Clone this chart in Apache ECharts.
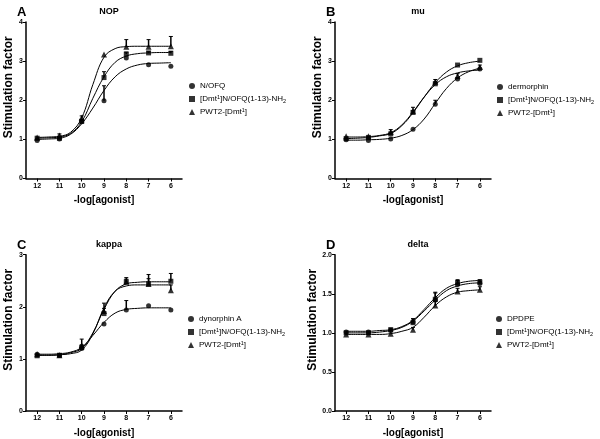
<!DOCTYPE html>
<html>
<head>
<meta charset="utf-8">
<script src="https://cdn.jsdelivr.net/npm/echarts@6/dist/echarts.min.js"></script>
<style>
html, body { margin: 0; padding: 0; background: #fff; }
#main { width: 600px; height: 439px; }
</style>
</head>
<body>
<div id="main"></div>
<script>
// -log[agonist] doses and tick labels
var doses = [12, 11, 10, 9, 8, 7, 6];
var fitX = [12, 11.5, 11, 10.5, 10, 9.5, 9, 8.5, 8, 7.5, 7, 6.5, 6];

// A NOP
var nopNofq = [0.97, 1.01, 1.45, 1.99, 3.08, 2.91, 2.87];
var nopNofqErr = [0, 0, 0, 0.38, 0, 0, 0];
var nopNofqFit = [1.0, 1.01, 1.03, 1.13, 1.4, 1.8, 2.25, 2.6, 2.8, 2.9, 2.94, 2.95, 2.96];
var nopDmt = [1.03, 1.03, 1.46, 2.58, 3.18, 3.21, 3.2];
var nopDmtErr = [0, 0, 0.05, 0.15, 0.05, 0.03, 0.05];
var nopDmtFit = [1.03, 1.04, 1.06, 1.15, 1.45, 2.05, 2.6, 2.97, 3.13, 3.19, 3.21, 3.22, 3.22];
var nopPwt = [1.05, 1.1, 1.55, 3.17, 3.37, 3.37, 3.38];
var nopPwtErr = [0, 0.04, 0.05, 0, 0.18, 0.18, 0.25];
var nopPwtFit = [1.05, 1.06, 1.08, 1.18, 1.55, 2.4, 3.1, 3.32, 3.37, 3.38, 3.38, 3.38, 3.38];

// B mu
var muDerm = [0.99, 0.97, 1.01, 1.26, 1.9, 2.54, 2.8];
var muDermErr = [0, 0, 0, 0, 0.1, 0.04, 0];
var muDermFit = [0.98, 0.98, 0.99, 1.0, 1.03, 1.1, 1.25, 1.52, 1.92, 2.3, 2.57, 2.73, 2.82];
var muDmt = [1.02, 1.05, 1.14, 1.69, 2.42, 2.9, 3.02];
var muDmtErr = [0, 0, 0, 0.04, 0.05, 0, 0];
var muDmtFit = [1.02, 1.03, 1.05, 1.09, 1.15, 1.35, 1.68, 2.08, 2.45, 2.72, 2.88, 2.96, 3.0];
var muPwt = [1.08, 1.08, 1.19, 1.72, 2.47, 2.62, 2.85];
var muPwtErr = [0, 0, 0.06, 0.1, 0.06, 0.06, 0.05];
var muPwtFit = [1.06, 1.06, 1.07, 1.1, 1.17, 1.37, 1.7, 2.08, 2.4, 2.6, 2.7, 2.75, 2.77];

// C kappa
var kapDyn = [1.09, 1.07, 1.2, 1.67, 1.94, 2.02, 1.94];
var kapDynErr = [0, 0, 0, 0, 0.18, 0, 0];
var kapDynFit = [1.09, 1.09, 1.1, 1.13, 1.22, 1.45, 1.7, 1.88, 1.95, 1.97, 1.98, 1.98, 1.98];
var kapDmt = [1.06, 1.07, 1.22, 1.87, 2.48, 2.44, 2.49];
var kapDmtErr = [0, 0, 0.05, 0.1, 0.05, 0.18, 0.15];
var kapDmtFit = [1.07, 1.07, 1.08, 1.12, 1.2, 1.5, 1.95, 2.3, 2.44, 2.47, 2.48, 2.48, 2.48];
var kapPwt = [1.09, 1.07, 1.26, 1.92, 2.48, 2.44, 2.32];
var kapPwtErr = [0, 0, 0.12, 0.15, 0.08, 0.1, 0.1];
var kapPwtFit = [1.07, 1.07, 1.08, 1.1, 1.17, 1.48, 1.98, 2.3, 2.4, 2.42, 2.42, 2.42, 2.42];

// D delta
var delDpd = [1.01, 1.01, 1.03, 1.14, 1.42, 1.62, 1.63];
var delDpdErr = [0, 0, 0, 0.04, 0.1, 0.05, 0.03];
var delDpdFit = [1.0, 1.0, 1.0, 1.01, 1.03, 1.07, 1.15, 1.28, 1.42, 1.54, 1.6, 1.63, 1.64];
var delDmt = [1.0, 1.0, 1.04, 1.13, 1.43, 1.64, 1.65];
var delDmtErr = [0, 0, 0.02, 0.05, 0.08, 0.04, 0.03];
var delDmtFit = [1.02, 1.02, 1.02, 1.03, 1.04, 1.08, 1.16, 1.3, 1.45, 1.57, 1.63, 1.66, 1.67];
var delPwt = [0.98, 0.98, 0.99, 1.04, 1.35, 1.53, 1.55];
var delPwtErr = [0, 0, 0, 0.03, 0.05, 0.04, 0.04];
var delPwtFit = [0.98, 0.98, 0.98, 0.98, 0.99, 1.02, 1.07, 1.2, 1.35, 1.46, 1.52, 1.54, 1.55];

var dmtName = '[Dmt1]N/OFQ(1-13)-NH2';
var pwtName = 'PWT2-[Dmt1]';

var font = 'Liberation Sans';
var chart = echarts.init(document.getElementById('main'));

var panels = [
    {letter: 'A', title: 'NOP', left: 26, top: 22, yMax: 4, yStep: 1, dec: 0,
        legendLeft: 184, legendTop: 76,
        sets: [['N/OFQ', nopNofq, nopNofqErr, nopNofqFit], [dmtName, nopDmt, nopDmtErr, nopDmtFit], [pwtName, nopPwt, nopPwtErr, nopPwtFit]]},
    {letter: 'B', title: 'mu', left: 335, top: 22, yMax: 4, yStep: 1, dec: 0,
        legendLeft: 492, legendTop: 77,
        sets: [['dermorphin', muDerm, muDermErr, muDermFit], [dmtName, muDmt, muDmtErr, muDmtFit], [pwtName, muPwt, muPwtErr, muPwtFit]]},
    {letter: 'C', title: 'kappa', left: 26, top: 254.7, yMax: 3, yStep: 1, dec: 0,
        legendLeft: 183, legendTop: 309,
        sets: [['dynorphin A', kapDyn, kapDynErr, kapDynFit], [dmtName, kapDmt, kapDmtErr, kapDmtFit], [pwtName, kapPwt, kapPwtErr, kapPwtFit]]},
    {letter: 'D', title: 'delta', left: 335, top: 254.7, yMax: 2, yStep: 0.5, dec: 1,
        legendLeft: 491, legendTop: 309,
        sets: [['DPDPE', delDpd, delDpdErr, delDpdFit], [dmtName, delDmt, delDmtErr, delDmtFit], [pwtName, delPwt, delPwtErr, delPwtFit]]}
];

var symbols = ['circle', 'rect', 'triangle'];
var symbolSizes = [5, 5, 6];

function errSeries(gi, ys, errs) {
    var d = [];
    for (var i = 0; i < doses.length; i++) {
        if (errs[i] > 0) d.push([doses[i], ys[i], ys[i] + errs[i]]);
    }
    return {
        type: 'custom', xAxisIndex: gi, yAxisIndex: gi, data: d, silent: true, z: 1,
        encode: {x: 0, y: [1, 2]},
        renderItem: function (params, api) {
            var p0 = api.coord([api.value(0), api.value(1)]);
            var p1 = api.coord([api.value(0), api.value(2)]);
            return {
                type: 'group', children: [
                    {type: 'line', shape: {x1: p0[0], y1: p0[1], x2: p1[0], y2: p1[1]}, style: {stroke: '#000', lineWidth: 1.5}},
                    {type: 'line', shape: {x1: p1[0] - 2, y1: p1[1], x2: p1[0] + 2, y2: p1[1]}, style: {stroke: '#000', lineWidth: 1}}
                ]
            };
        }
    };
}

var grids = [], xAxes = [], yAxes = [], series = [], legends = [], titles = [];

panels.forEach(function (p, gi) {
    grids.push({left: p.left, top: p.top, width: 156, height: 156.5});
    xAxes.push({
        type: 'value', gridIndex: gi, min: 5.5, max: 12.5, inverse: true,
        name: '-log[agonist]', nameLocation: 'middle', nameGap: 17,
        nameTextStyle: {fontFamily: font, fontSize: 10, fontWeight: 'bold', color: '#000'},
        axisLine: {lineStyle: {color: '#000', width: 1.5}},
        axisTick: {length: 3, lineStyle: {color: '#000', width: 1}, customValues: doses},
        axisLabel: {customValues: doses, fontFamily: font, fontSize: 7, fontWeight: 'bold', color: '#000', margin: 4},
        splitLine: {show: false}
    });
    yAxes.push({
        type: 'value', gridIndex: gi, min: 0, max: p.yMax, interval: p.yStep,
        name: 'Stimulation factor', nameLocation: 'middle', nameGap: 11,
        // 标题在原图中略偏上
        nameTextStyle: {fontFamily: font, fontSize: 12, fontWeight: 'bold', color: '#000', padding: [0, 0, 0, 26]},
        axisLine: {show: true, lineStyle: {color: '#000', width: 1.5}},
        axisTick: {show: true, length: 3, lineStyle: {color: '#000', width: 1}},
        axisLabel: {fontFamily: font, fontSize: 7, fontWeight: 'bold', color: '#000', margin: 3,
            formatter: function (v) { return v.toFixed(p.dec); }},
        splitLine: {show: false}
    });
    var names = [];
    p.sets.forEach(function (s, k) {
        names.push(s[0]);
        series.push({
            name: s[0], type: 'scatter', xAxisIndex: gi, yAxisIndex: gi,
            symbol: symbols[k], symbolSize: symbolSizes[k], z: 3,
            itemStyle: {color: '#000'},
            data: doses.map(function (x, i) { return [x, s[1][i]]; })
        });
        series.push(errSeries(gi, s[1], s[2]));
        series.push({
            name: 'fit' + gi + k, type: 'line', xAxisIndex: gi, yAxisIndex: gi,
            symbol: 'none', smooth: 0.4, silent: true, z: 2,
            lineStyle: {color: '#000', width: 1},
            data: fitX.map(function (x, i) { return [x, s[3][i]]; })
        });
    });
    legends.push({
        data: names, orient: 'vertical', left: p.legendLeft, top: p.legendTop,
        itemWidth: 6, itemHeight: 6, itemGap: 3, selectedMode: false,
        textStyle: {fontFamily: font, fontSize: 8, color: '#000', lineHeight: 10,
            rich: {
                sup: {fontFamily: font, fontSize: 5.5, color: '#000', verticalAlign: 'top', lineHeight: 10},
                sub: {fontFamily: font, fontSize: 5.5, color: '#000', verticalAlign: 'bottom', lineHeight: 10}
            }},
        formatter: function (n) {
            if (n === dmtName) return '[Dmt{sup|1}]N/OFQ(1-13)-NH{sub|2}';
            if (n === pwtName) return 'PWT2-[Dmt{sup|1}]';
            return n;
        }
    });
    titles.push({text: p.letter, left: p.left - 14, top: p.top - 21,
        textStyle: {fontFamily: font, fontSize: 13, fontWeight: 'bold', color: '#000'}});
    titles.push({text: p.title, left: p.left + 78, top: p.top - 20, textAlign: 'center',
        textStyle: {fontFamily: font, fontSize: 9, fontWeight: 'bold', color: '#000'}});
});

chart.setOption({
    animation: false,
    backgroundColor: '#fff',
    title: titles,
    legend: legends,
    grid: grids,
    xAxis: xAxes,
    yAxis: yAxes,
    series: series
});
</script>
</body>
</html>
